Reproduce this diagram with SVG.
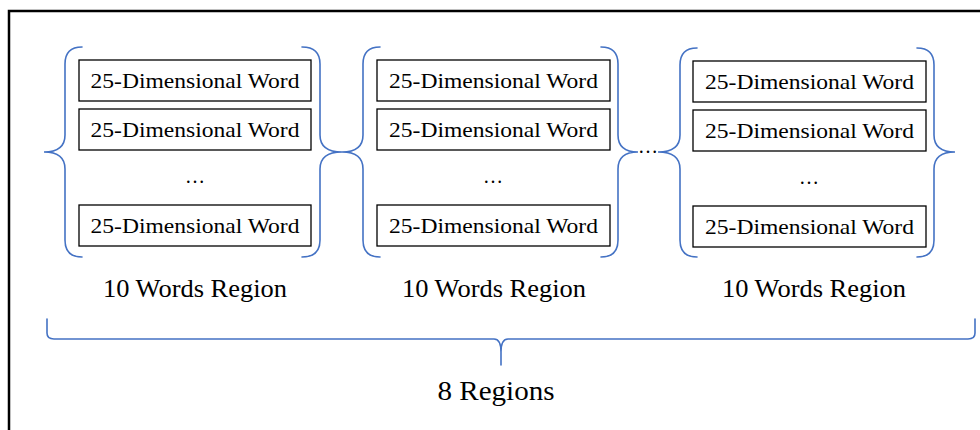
<svg xmlns="http://www.w3.org/2000/svg" width="980" height="430" viewBox="0 0 980 430">
<style>
  .frame { stroke: #000; stroke-width: 2.5; fill: none; }
  .box { fill: #fff; stroke: #000; stroke-width: 1.3; }
  .brace { fill: none; stroke: #4472C4; stroke-width: 1.6; stroke-linecap: round; }
  text { font-family: 'Liberation Serif', 'Times New Roman', Times, serif; fill: #000; text-anchor: middle; }
  .wt { font-size: 22px; }
  .dots { font-size: 20px; }
  .lbl { font-size: 25px; }
  .big { font-size: 28px; }
</style>
<rect width="980" height="430" fill="#fff"/>
<path class="frame" d="M9 430 L9 11 L980 11"/>

<g id="region1">
  <rect class="box" x="79" y="60" width="232" height="41"/>
  <text class="wt" x="195" y="88" textLength="209" lengthAdjust="spacingAndGlyphs">25-Dimensional Word</text>
  <rect class="box" x="79" y="109" width="232" height="41"/>
  <text class="wt" x="195" y="137" textLength="209" lengthAdjust="spacingAndGlyphs">25-Dimensional Word</text>
  <text class="dots" x="195" y="183">…</text>
  <rect class="box" x="79" y="205" width="232" height="41"/>
  <text class="wt" x="195" y="233" textLength="209" lengthAdjust="spacingAndGlyphs">25-Dimensional Word</text>
  <text class="lbl" x="195" y="297" textLength="184" lengthAdjust="spacingAndGlyphs">10 Words Region</text>
</g>

<g id="region2">
  <rect class="box" x="377" y="60" width="233" height="41"/>
  <text class="wt" x="493.5" y="88" textLength="209" lengthAdjust="spacingAndGlyphs">25-Dimensional Word</text>
  <rect class="box" x="377" y="109" width="233" height="41"/>
  <text class="wt" x="493.5" y="137" textLength="209" lengthAdjust="spacingAndGlyphs">25-Dimensional Word</text>
  <text class="dots" x="493" y="183">…</text>
  <rect class="box" x="377" y="205" width="233" height="41"/>
  <text class="wt" x="493.5" y="233" textLength="209" lengthAdjust="spacingAndGlyphs">25-Dimensional Word</text>
  <text class="lbl" x="494" y="297" textLength="184" lengthAdjust="spacingAndGlyphs">10 Words Region</text>
</g>

<g id="region3">
  <rect class="box" x="693" y="61" width="233" height="41"/>
  <text class="wt" x="809.5" y="89" textLength="209" lengthAdjust="spacingAndGlyphs">25-Dimensional Word</text>
  <rect class="box" x="693" y="110" width="233" height="41"/>
  <text class="wt" x="809.5" y="138" textLength="209" lengthAdjust="spacingAndGlyphs">25-Dimensional Word</text>
  <text class="dots" x="809" y="184">…</text>
  <rect class="box" x="693" y="206" width="233" height="41"/>
  <text class="wt" x="809.5" y="234" textLength="209" lengthAdjust="spacingAndGlyphs">25-Dimensional Word</text>
  <text class="lbl" x="814" y="297" textLength="184" lengthAdjust="spacingAndGlyphs">10 Words Region</text>
</g>

<g id="between-dots">
  <text class="dots" x="648" y="153">…</text>
</g>

<g id="total">
  <text class="big" x="496" y="400" textLength="117" lengthAdjust="spacingAndGlyphs">8 Regions</text>
</g>

<g id="connectors">
  <path class="brace" d="M82 47 Q65 47 65 64 L65 135 Q65 152 44 152 Q65 152 65 169 L65 240 Q65 257 82 257"/>
  <path class="brace" d="M302 47 Q320 47 320 64 L320 135 Q320 152 342 152 Q320 152 320 169 L320 240 Q320 257 302 257"/>
  <path class="brace" d="M380 47 Q363 47 363 64 L363 135 Q363 152 342 152 Q363 152 363 169 L363 240 Q363 257 380 257"/>
  <path class="brace" d="M601 47 Q618 47 618 64 L618 135 Q618 152 638 152 Q618 152 618 169 L618 240 Q618 257 601 257"/>
  <path class="brace" d="M697 48 Q680 48 680 65 L680 135 Q680 152 658 152 Q680 152 680 169 L680 240 Q680 257 697 257"/>
  <path class="brace" d="M917 48 Q934 48 934 65 L934 135 Q934 152 955 152 Q934 152 934 169 L934 240 Q934 257 917 257"/>
  <path class="brace" d="M47 319 L47 333 Q47 339 54 339 L494 339 Q501 339 501 352 L501 365 M501 352 Q501 339 508 339 L968 339 Q975 339 975 333 L975 319"/>
</g>
</svg>
